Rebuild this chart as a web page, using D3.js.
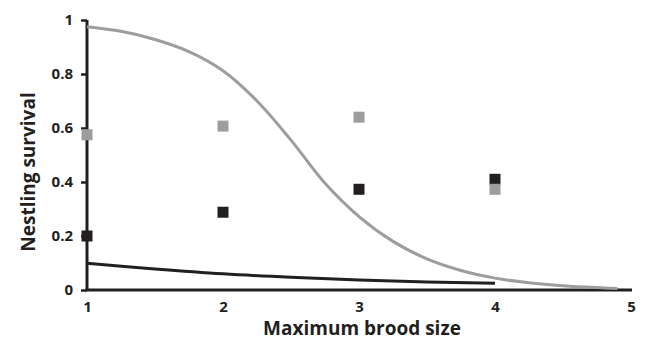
<!DOCTYPE html>
<html>
<head>
<meta charset="utf-8">
<script src="https://cdn.jsdelivr.net/npm/d3@7"></script>
<style>
html,body{margin:0;padding:0;background:#fff;}
svg{display:block;}
</style>
</head>
<body>
<svg id="chart" width="649" height="342"></svg>
<script>
// Data
const broodSizes = [1, 2, 3, 4];
const greySurvival = [0.575, 0.607, 0.64, 0.373];
const blackSurvival = [0.2, 0.288, 0.373, 0.41];

// Fitted curves
const greyCurveX = [1.0, 1.25, 1.5, 1.75, 2.0, 2.25, 2.5, 2.75, 3.0, 3.25, 3.5, 3.75, 4.0, 4.25, 4.5, 4.75, 4.9];
const greyCurveY = [0.975, 0.958, 0.928, 0.883, 0.812, 0.70, 0.555, 0.395, 0.272, 0.18, 0.115, 0.072, 0.044, 0.027, 0.016, 0.009, 0.006];
const blackCurveX = [1.0, 1.5, 2.0, 2.5, 3.0, 3.5, 4.0];
const blackCurveY = [0.099, 0.078, 0.06, 0.047, 0.037, 0.03, 0.025];

const xTicks = [1, 2, 3, 4, 5];
const yTicks = [0, 0.2, 0.4, 0.6, 0.8, 1];
const yTickLabels = ["0", "0.2", "0.4", "0.6", "0.8", "1"];

const svg = d3.select("#chart");
const dark = "#231f20";
const grey = "#9d9d9d";
const font = "'Open Sans', sans-serif";

const x = d3.scaleLinear().domain([1, 5]).range([87, 631]);
const y = d3.scaleLinear().domain([0, 1]).range([290, 20]);

// Y axis
const yAxis = d3.axisLeft(y).tickValues(yTicks)
  .tickFormat((d, i) => yTickLabels[i]).tickSize(6).tickPadding(8);
const gy = svg.append("g").attr("transform", `translate(${x(1)},0)`).call(yAxis);
gy.select(".domain").attr("stroke", dark).attr("stroke-width", 3).attr("d", `M0,${y(1)}V${y(0)}`);
gy.selectAll(".tick line").attr("stroke", dark).attr("stroke-width", 2.5);
gy.selectAll(".tick text").attr("fill", dark).attr("font-family", font)
  .attr("font-weight", "bold").attr("font-size", 15);

// X axis
const xAxis = d3.axisBottom(x).tickValues(xTicks).tickFormat(d3.format("d")).tickSize(0).tickPadding(11);
const gx = svg.append("g").attr("transform", `translate(0,${y(0)})`).call(xAxis);
gx.select(".domain").attr("stroke", dark).attr("stroke-width", 3).attr("d", `M${x(1)-1.5},0H${x(5)+1}`);
gx.selectAll(".tick text").attr("fill", dark).attr("font-family", font)
  .attr("font-weight", "bold").attr("font-size", 15);

// Curves
const line = d3.line().x(d => x(d[0])).y(d => y(d[1])).curve(d3.curveCatmullRom.alpha(0.5));
svg.append("path")
  .datum(blackCurveX.map((v, i) => [v, blackCurveY[i]]))
  .attr("d", line).attr("fill", "none").attr("stroke", dark).attr("stroke-width", 3);
svg.append("path")
  .datum(greyCurveX.map((v, i) => [v, greyCurveY[i]]))
  .attr("d", line).attr("fill", "none").attr("stroke", grey).attr("stroke-width", 3);

// Points
const sq = 11;
svg.append("g").selectAll("rect").data(broodSizes.map((b, i) => [b, blackSurvival[i]]))
  .join("rect")
  .attr("x", d => x(d[0]) - sq / 2).attr("y", d => y(d[1]) - sq / 2)
  .attr("width", sq).attr("height", sq).attr("fill", dark);
svg.append("g").selectAll("rect").data(broodSizes.map((b, i) => [b, greySurvival[i]]))
  .join("rect")
  .attr("x", d => x(d[0]) - sq / 2).attr("y", d => y(d[1]) - sq / 2)
  .attr("width", sq).attr("height", sq).attr("fill", grey);

// Titles
svg.append("text").attr("x", 362).attr("y", 335).attr("text-anchor", "middle")
  .attr("font-family", font).attr("font-weight", "bold").attr("font-size", 19)
  .attr("fill", dark).text("Maximum brood size");
svg.append("text").attr("transform", "translate(35,172) rotate(-90)").attr("text-anchor", "middle")
  .attr("font-family", font).attr("font-weight", "bold").attr("font-size", 19)
  .attr("fill", dark).text("Nestling survival");
</script>
</body>
</html>
